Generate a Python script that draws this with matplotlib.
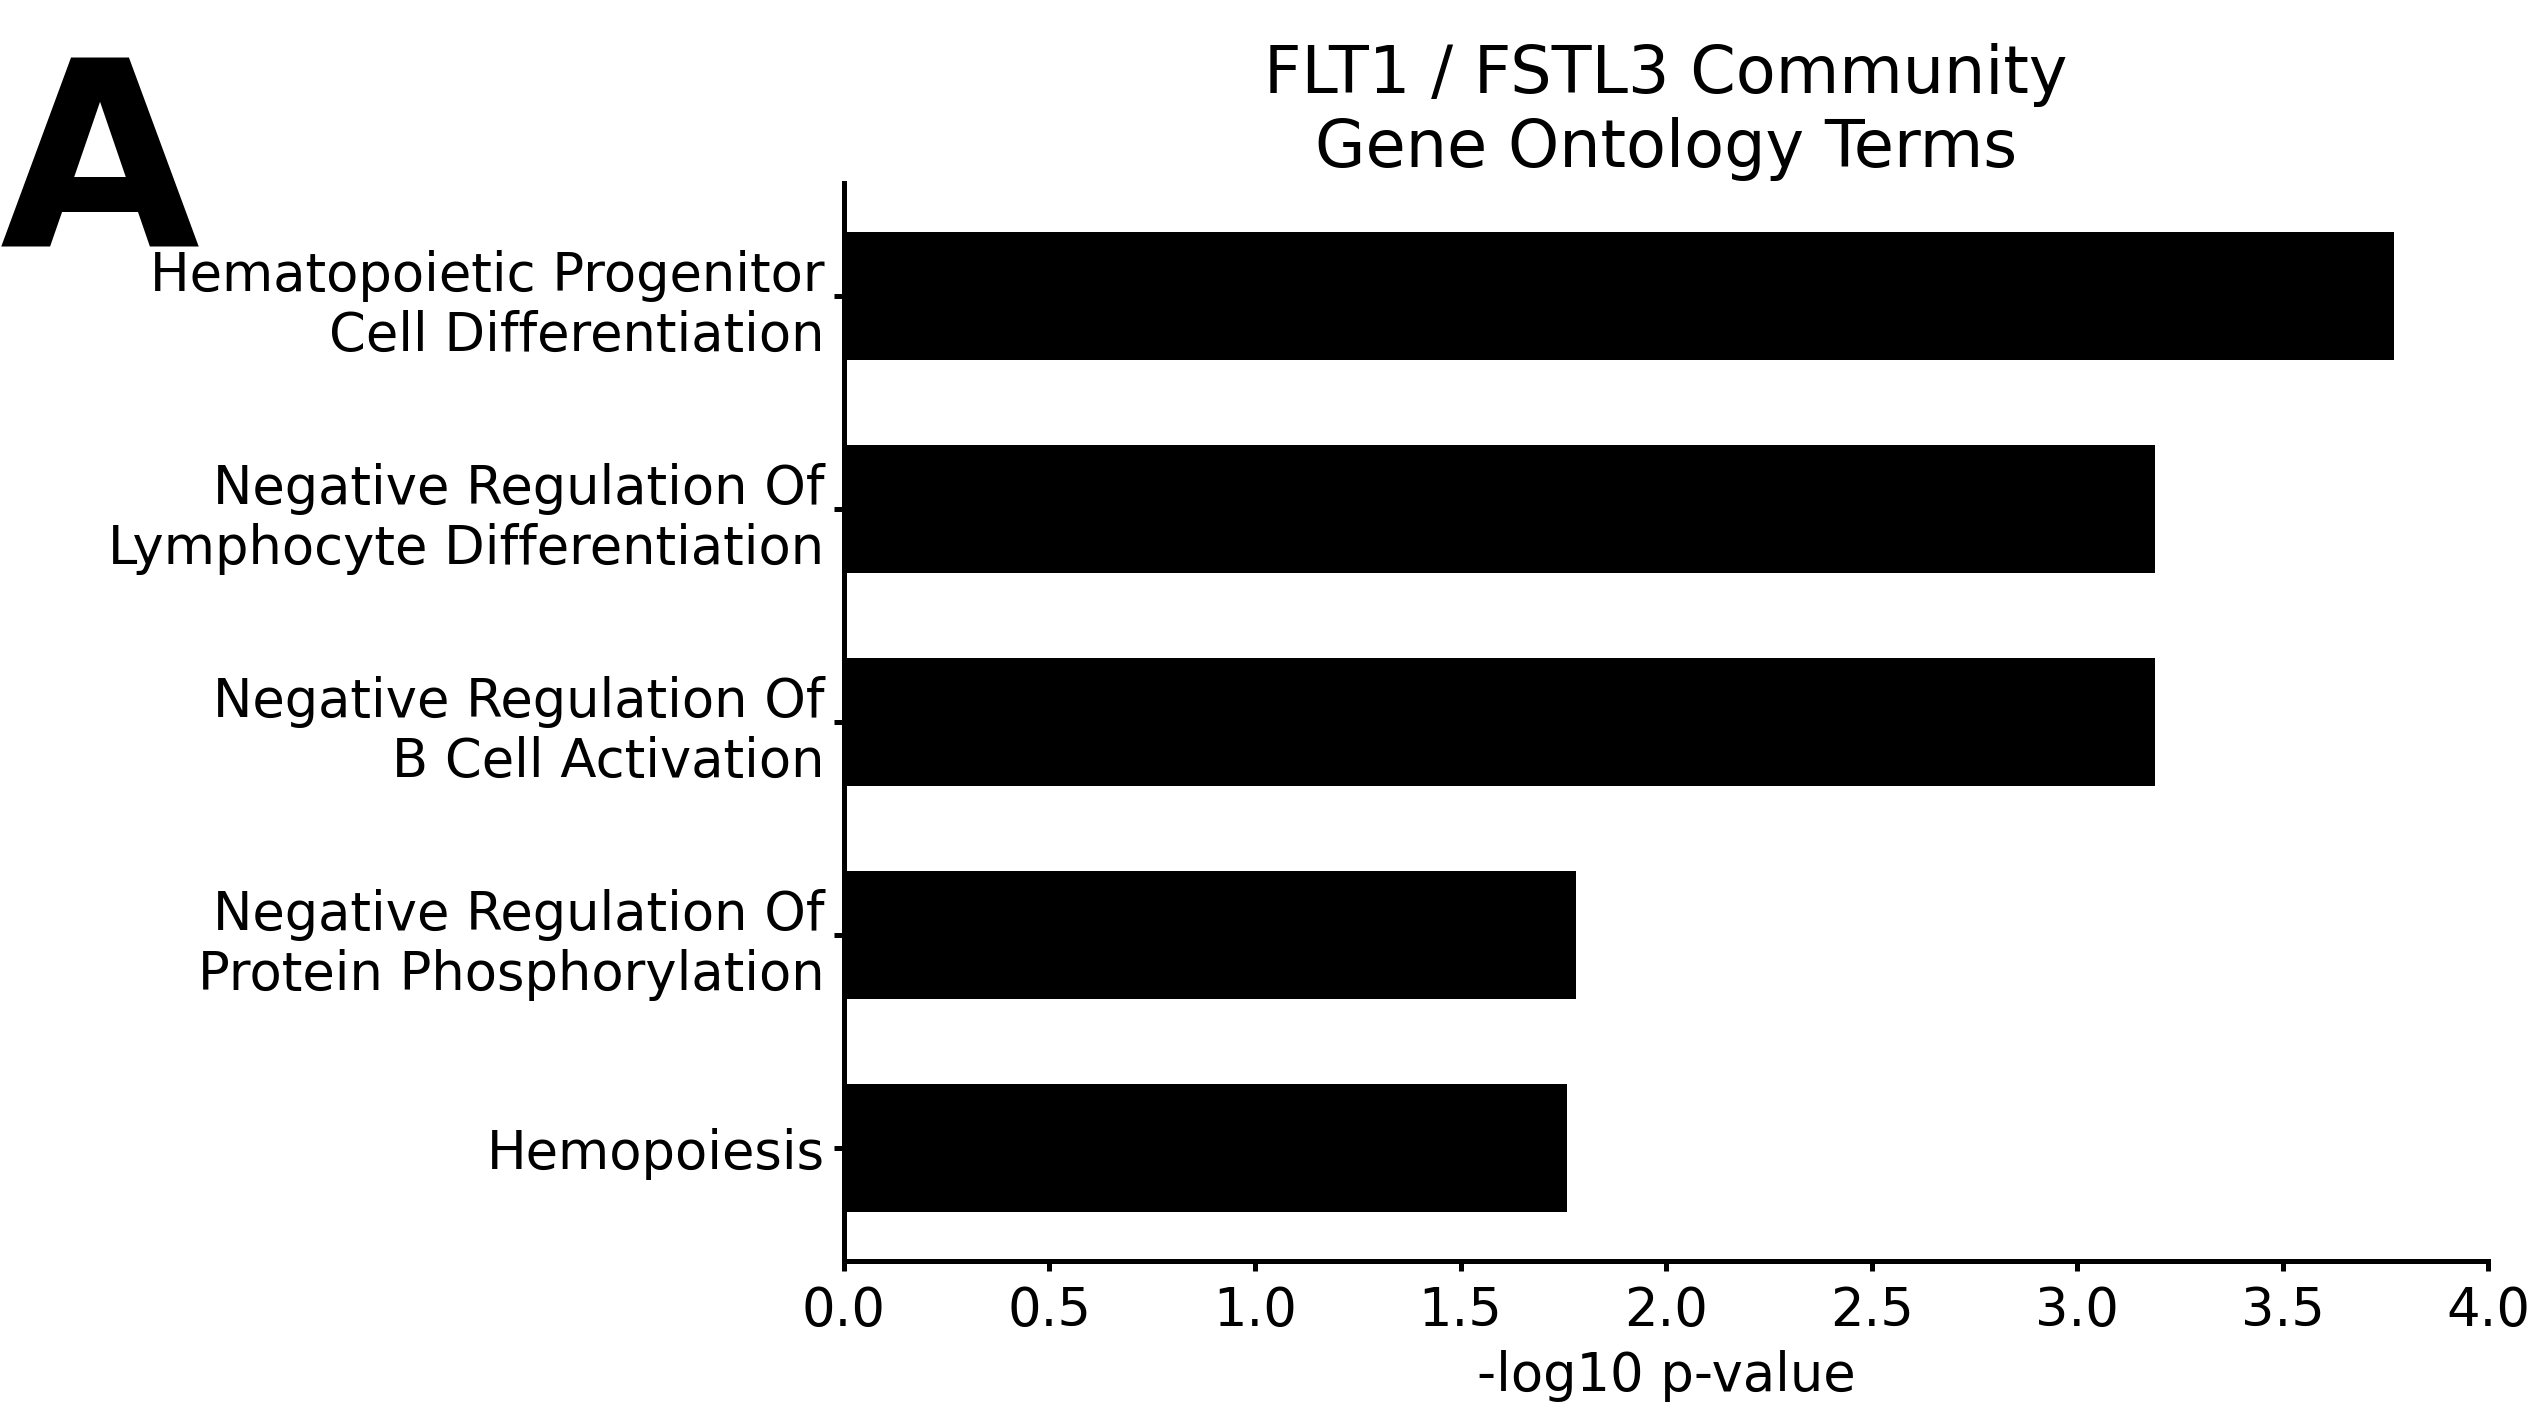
import matplotlib
matplotlib.use("Agg")
import matplotlib.pyplot as plt

# GO terms, top to bottom
terms = [
    "Hematopoietic Progenitor\nCell Differentiation",
    "Negative Regulation Of\nLymphocyte Differentiation",
    "Negative Regulation Of\nB Cell Activation",
    "Negative Regulation Of\nProtein Phosphorylation",
    "Hemopoiesis",
]
neg_log_p = [3.77, 3.19, 3.19, 1.78, 1.76]
xticks = [0.0, 0.5, 1.0, 1.5, 2.0, 2.5, 3.0, 3.5, 4.0]

plt.rcParams["font.family"] = "DejaVu Sans"

fig = plt.figure(figsize=(12.695, 7.05), dpi=200)
ax = fig.add_axes([0.3324, 0.1057, 0.980 - 0.3324, 0.870 - 0.1057])

ax.barh(range(len(terms)), neg_log_p, height=0.6, color="black")
ax.set_yticks(range(len(terms)))
ax.set_yticklabels(terms, fontsize=19)
ax.invert_yaxis()

ax.set_xlim(0, 4.0)
ax.set_xticks(xticks)
ax.set_xticklabels([f"{t:.1f}" for t in xticks], fontsize=19)
ax.set_xlabel("-log10 p-value", fontsize=19, labelpad=5)
ax.set_title("FLT1 / FSTL3 Community\nGene Ontology Terms", fontsize=23.5)

for side in ("top", "right"):
    ax.spines[side].set_visible(False)
for side in ("left", "bottom"):
    ax.spines[side].set_linewidth(1.8)
ax.tick_params(width=1.8, length=3.5)
ax.tick_params(axis="x", pad=5)

fig.text(0.0, 0.8255, "A", fontsize=93, fontweight="bold",
         ha="left", va="baseline")

fig.savefig("out.png", dpi=200)
